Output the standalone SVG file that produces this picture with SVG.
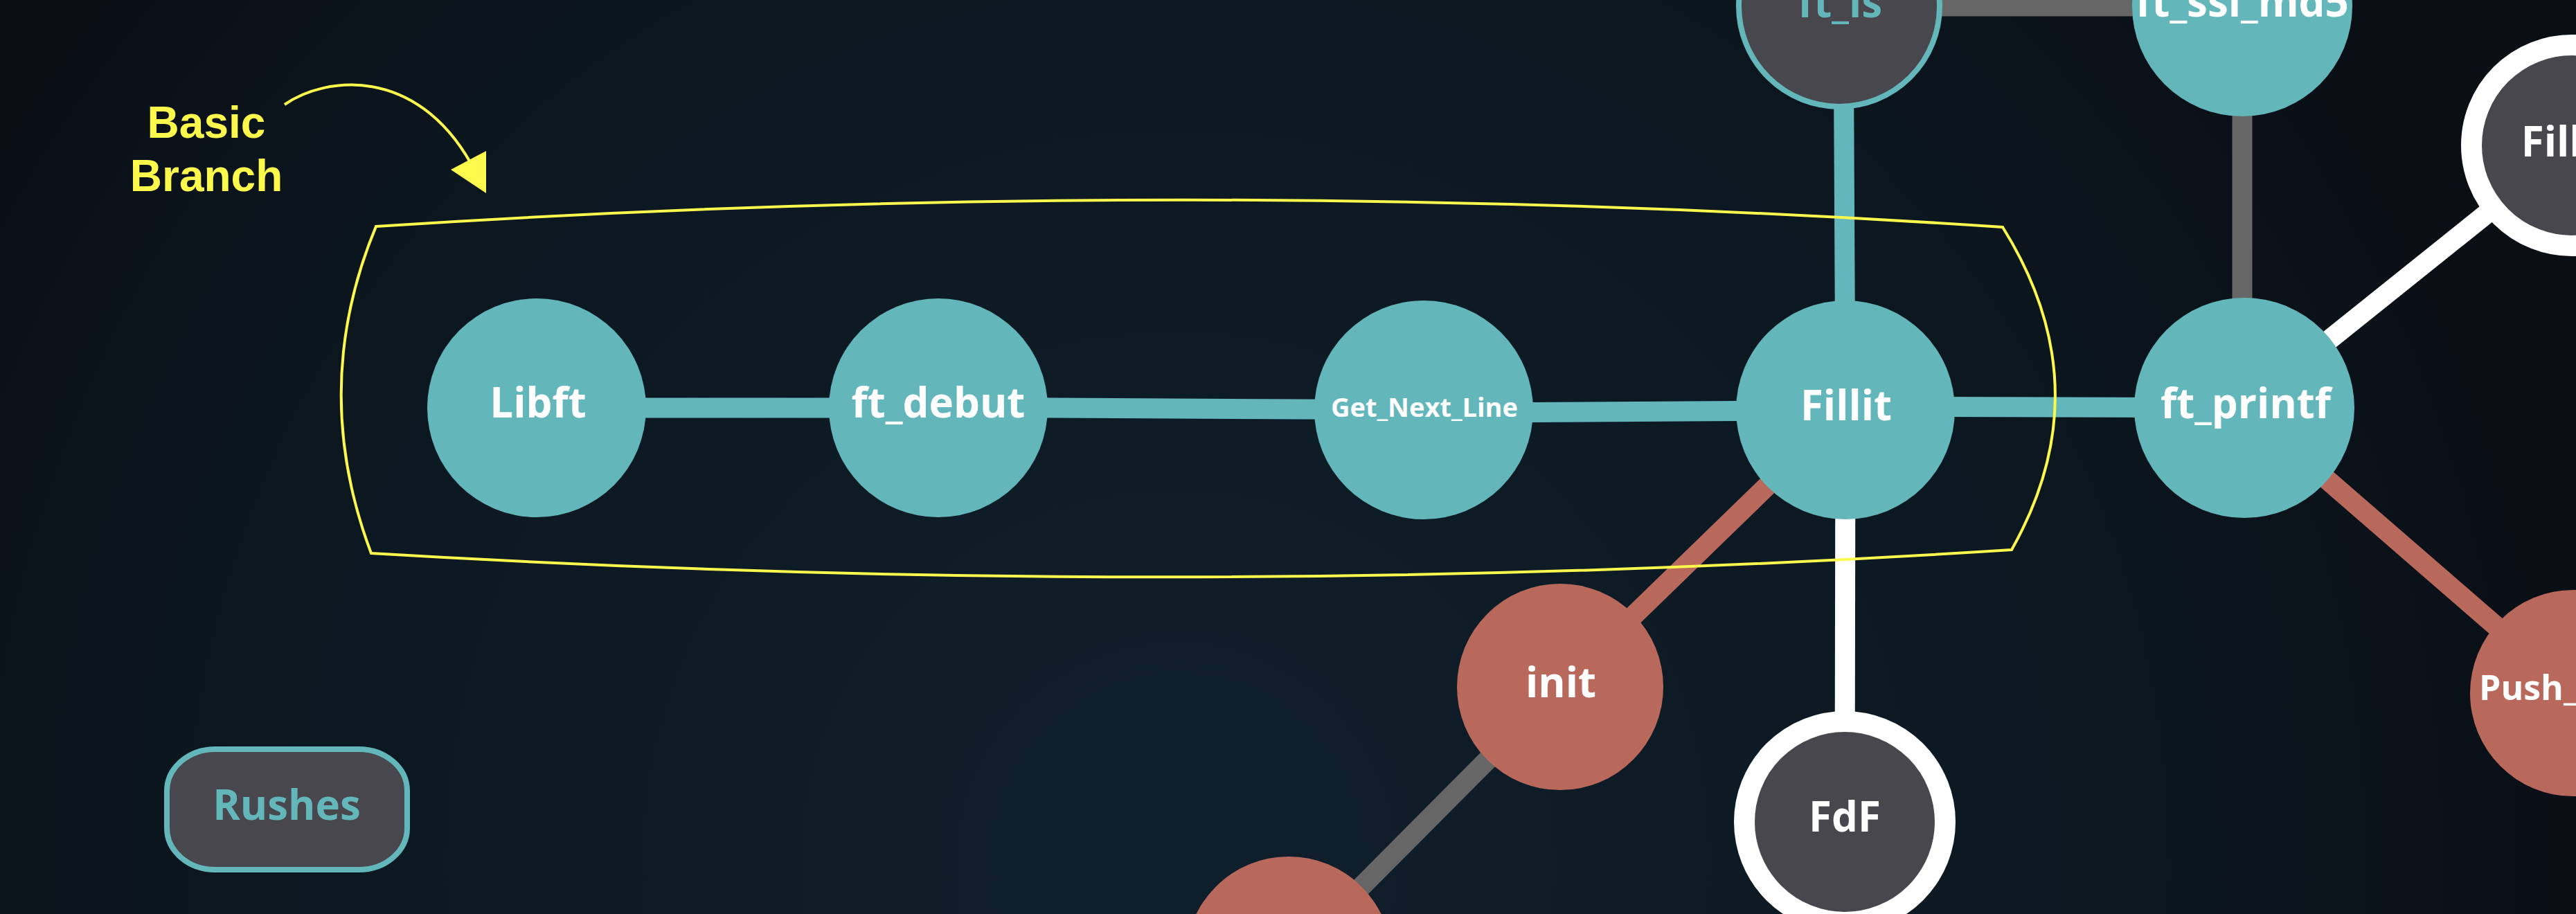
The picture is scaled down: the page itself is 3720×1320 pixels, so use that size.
<svg xmlns="http://www.w3.org/2000/svg" width="3720" height="1320" viewBox="0 0 3720 1320">
<defs>
<radialGradient id="bg" cx="1700" cy="1250" r="2100" gradientUnits="userSpaceOnUse">
<stop offset="0" stop-color="#0f1f2b"/>
<stop offset="0.6" stop-color="#0c1821"/>
<stop offset="1" stop-color="#0a0e15"/>
</radialGradient>
<style>
.teal{fill:#63b6b9}
.red{fill:#b9685c}
.ring{fill:#48474d;stroke:#ffffff;stroke-width:30}
.tealring{fill:#48474d;stroke:#63b6b9;stroke-width:8}
.lbl{font-family:"Open Sans","DejaVu Sans",sans-serif;font-weight:700;fill:#ffffff;text-anchor:middle}
.tl{fill:#63b6b9}
.c{fill:none;stroke-width:29;stroke-linecap:butt}
.ct{stroke:#63b6b9}
.cg{stroke:#666666}
.cw{stroke:#ffffff}
.cr{stroke:#b9685c}
.yel{fill:none;stroke:#fdf84c;stroke-width:4}
.ytxt{font-family:"Liberation Sans",Arial,sans-serif;font-weight:700;font-size:64px;fill:#fdf84c;text-anchor:middle}
</style>
</defs>
<rect x="0" y="0" width="3720" height="1320" fill="url(#bg)"/>
<g id="connectors">
<line class="c ct" x1="775" y1="589" x2="1355" y2="589"/>
<line class="c ct" x1="1355" y1="588" x2="2056" y2="592"/>
<line class="c ct" x1="2056" y1="596.5" x2="2665" y2="592.5"/>
<line class="c ct" x1="2665" y1="587" x2="3241" y2="589"/>
<line class="c ct" x1="2662" y1="9" x2="2665" y2="592"/>
<line class="c cg" x1="2656" y1="9" x2="3238" y2="9"/>
<line class="c cg" x1="3238" y1="9" x2="3238" y2="589"/>
<line class="c cw" x1="3241" y1="589" x2="3714" y2="210"/>
<line class="c cr" x1="3241" y1="589" x2="3716" y2="1001"/>
<line class="c cr" x1="2665" y1="592" x2="2253" y2="992"/>
<line class="c cw" x1="2665" y1="592" x2="2664" y2="1187"/>
<line class="c cg" x1="2253" y1="992" x2="1861" y2="1386"/>
</g>
<g id="node-libft"><circle class="teal" cx="775" cy="589" r="158"/><text class="lbl" x="777" y="603" font-size="60">Libft</text></g>
<g id="node-ft_debut"><circle class="teal" cx="1355" cy="589" r="158"/><text class="lbl" x="1355" y="603" font-size="60">ft_debut</text></g>
<g id="node-gnl"><circle class="teal" cx="2056" cy="592" r="158"/><text class="lbl" x="2057" y="602" font-size="38">Get_Next_Line</text></g>
<g id="node-fillit"><circle class="teal" cx="2665" cy="592" r="158"/><text class="lbl" x="2666" y="607" font-size="60">Fillit</text></g>
<g id="node-ft_printf"><circle class="teal" cx="3241" cy="589" r="159"/><text class="lbl" x="3243" y="604" font-size="60">ft_printf</text></g>
<g id="node-ft_ls"><circle class="tealring" cx="2656" cy="9" r="145"/><text class="lbl tl" x="2657" y="25" font-size="60">ft_ls</text></g>
<g id="node-ft_ssl_md5"><circle class="teal" cx="3238" cy="9" r="159"/><text class="lbl" x="3238" y="24" font-size="60">ft_ssl_md5</text></g>
<g id="node-filler"><circle class="ring" cx="3714" cy="210" r="145"/><text class="lbl" x="3716" y="226" font-size="60">Filler</text></g>
<g id="node-init"><circle class="red" cx="2253" cy="992" r="149"/><text class="lbl" x="2254" y="1007" font-size="60">init</text></g>
<g id="node-fdf"><circle class="ring" cx="2664" cy="1187" r="145"/><text class="lbl" x="2664" y="1201" font-size="60">FdF</text></g>
<g id="node-push_swap"><circle class="red" cx="3716" cy="1001" r="149"/><text class="lbl" x="3716" y="1011" font-size="50">Push_swap</text></g>
<g id="node-bottom"><circle class="red" cx="1861" cy="1386" r="149"/></g>
<g id="node-rushes"><rect x="241" y="1082" width="347" height="174" rx="70" ry="60" fill="#48474d" stroke="#63b6b9" stroke-width="8"/><text class="lbl tl" x="414" y="1184" font-size="60">Rushes</text></g>
<g id="basic-branch">
<path class="yel" d="M543,327 Q1720,250 2892,328 Q3037,560 2905,794 Q1720,870 536,799 Q446,560 543,327 Z"/>
<path class="yel" d="M411,151 C470,110 600,95 680,236"/>
<polygon points="702,218 651,245 702,279" fill="#fdf84c"/>
<text class="ytxt" x="298" y="199">Basic</text>
<text class="ytxt" x="298" y="276">Branch</text>
</g>
</svg>
